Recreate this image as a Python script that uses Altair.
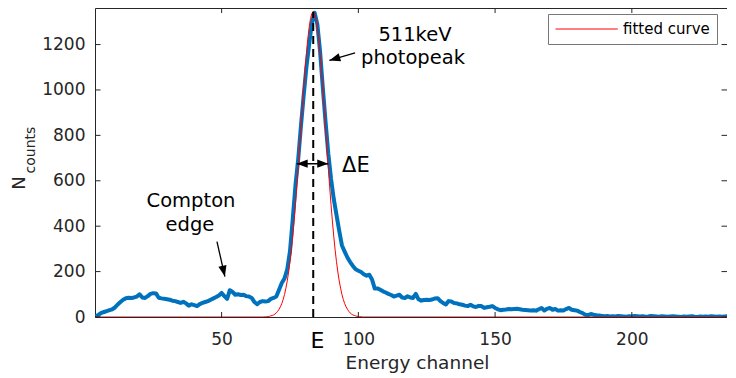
import altair as alt
import pandas as pd

# ---------------- data ----------------
channels = list(range(4, 236))
counts = [
    3, 10, 18, 22, 26, 30, 34, 42, 55, 66,            # 4-13
    76, 83, 85, 84, 86, 90, 100, 86, 84, 92,          # 14-23
    102, 105, 104, 85, 82, 80, 78, 76, 72, 70,        # 24-33
    66, 62, 67, 60, 50, 56, 52, 48, 57, 62,           # 34-43
    66, 70, 76, 82, 88, 95, 106, 92, 80, 118,         # 44-53
    110, 98, 100, 97, 98, 92, 90, 84, 66, 56,         # 54-63
    66, 70, 68, 70, 80, 84, 90, 120, 150, 170,        # 64-73
    210, 290, 430, 580, 695, 840, 975, 1100, 1200, 1295,  # 74-83
    1340, 1290, 1170, 1010, 860, 720, 610, 520, 450, 380,  # 84-93
    315, 288, 262, 242, 225, 210, 204, 198, 188, 182,  # 94-103
    186, 165, 125, 126, 120, 113, 108, 102, 97, 90,   # 104-113
    94, 98, 86, 84, 91, 86, 84, 102, 78, 72,          # 114-123
    75, 76, 75, 77, 82, 83, 70, 62, 55, 70,           # 124-133
    68, 62, 60, 56, 54, 50, 48, 54, 47, 44,           # 134-143
    49, 48, 40, 43, 45, 48, 40, 34, 30, 32,           # 144-153
    33, 35, 34, 35, 36, 34, 32, 31, 30, 29,           # 154-163
    30, 28, 34, 40, 29, 36, 40, 32, 35, 28,           # 164-173
    30, 29, 35, 40, 32, 30, 28, 22, 17, 10,           # 174-183
    8, 13, 10, 8, 7, 5, 3, 4, 2, 3,                   # 184-193
    2, 4, 3, 2, 1, 3, 2, 4, 3, 2,                     # 194-203
    3, 1, 2, 4, 3, 2, 1, 3, 2, 1,                     # 204-213
    2, 3, 2, 1, 0, 2, 1, 2, 3, 1,                     # 214-223
    0, 2, 1, 2, 1, 3, 2, 1, 2, 1,                     # 224-233
    2, 3,                                             # 234-235
]

# fitted curve, read at half-channel steps across the peak
fit_channels = [4] + [65 + 0.5 * i for i in range(75)] + [235]
fit_counts = [0,
    0, 0.5, 1, 1.5, 2, 3, 5, 7, 9, 13, 18, 25, 34, 45, 59, 77, 99, 127, 159,
    198, 244, 296, 356, 423, 496, 574, 658, 745, 834, 922, 1007, 1087, 1160,
    1224, 1275, 1314, 1337, 1345,
    1337, 1314, 1275, 1224, 1160, 1087, 1007, 922, 834, 745, 658, 574, 496,
    423, 356, 296, 244, 198, 159, 127, 99, 77, 59, 45, 34, 25, 18, 13, 9, 7,
    5, 3, 2, 1.5, 1, 0.5, 0,
    0]

x_ticks = [50, 100, 150, 200]
y_ticks = [0, 200, 400, 600, 800, 1000, 1200]
legend_label = "fitted curve"

peak_channel = 83.5
peak_height = 1345

# annotation anchors in data units
ann_texts = ["511keV", "photopeak", "Compton", "edge"]
ann_x = [120.7, 120.0, 38.8, 38.4]
ann_y = [1214, 1116, 485, 377]

de_text_x, de_text_y = 99.1, 639
de_left, de_right, de_y = 77.45, 89.0, 675

arrow_tail_x = [98.8, 48.3]
arrow_tail_y = [1163, 332]
arrow_tip_x = [89.4, 51.2]
arrow_tip_y = [1130, 178]
arrow_angle = [163, 77]

E_label_x = 85.05

# ---------------- chart ----------------
FONT = "DejaVu Sans"
W, H = 632, 309

xs = alt.Scale(domain=[3.7, 234.8], nice=False, zero=False)
ys = alt.Scale(domain=[0, 1361], nice=False)

x_axis = alt.Axis(values=x_ticks, grid=False, ticks=False, tickSize=0, domain=False,
                  labelFont=FONT, labelFontSize=17, labelColor="#262626", labelPadding=14,
                  title="Energy channel", titleFont=FONT, titleFontSize=18.5,
                  titleFontWeight="normal", titleColor="#262626",
                  titleBaseline="alphabetic", titleY=51, titleX=322)
y_axis = alt.Axis(values=y_ticks, grid=False, ticks=False, tickSize=0, domain=False,
                  format="d",
                  labelFont=FONT, labelFontSize=17, labelColor="#262626", labelPadding=10,
                  title=None)

X = alt.X("x:Q", scale=xs, axis=x_axis)
Y = alt.Y("y:Q", scale=ys, axis=y_axis)

df_counts = pd.DataFrame({"x": channels, "y": counts})
df_fit = pd.DataFrame({"x": fit_channels, "y": fit_counts, "s": legend_label})

blue = alt.Chart(df_counts).mark_line(color="#0072BD", strokeWidth=4, clip=True,
                                      strokeJoin="round").encode(x=X, y=Y)

red = alt.Chart(df_fit).mark_line(strokeWidth=1, clip=True).encode(
    x=X, y=Y,
    color=alt.Color("s:N", scale=alt.Scale(domain=[legend_label], range=["#FF0000"]),
                    legend=alt.Legend(title=None, orient="none", legendX=453, legendY=6,
                                      symbolType="M-1,0L7.3,0", symbolSize=225,
                                      symbolStrokeWidth=1, labelFont=FONT,
                                      labelFontSize=15, labelColor="black",
                                      labelOffset=52, padding=7, strokeColor="#777777",
                                      fillColor="white", cornerRadius=0)))

dash = alt.Chart(pd.DataFrame({"x": [peak_channel], "y": [0], "y2": [peak_height]})).mark_rule(
    color="black", strokeWidth=2, strokeDash=[8, 5]).encode(x=X, y=Y, y2="y2:Q")

# arrows
shafts = pd.DataFrame({"x": arrow_tail_x + [de_left], "y": arrow_tail_y + [de_y],
                       "x2": arrow_tip_x + [de_right], "y2": arrow_tip_y + [de_y]})
shaft = alt.Chart(shafts).mark_rule(color="black", strokeWidth=1.3).encode(
    x=X, y=Y, x2="x2:Q", y2="y2:Q")

heads = pd.DataFrame({"x": arrow_tip_x + [de_left, de_right],
                      "y": arrow_tip_y + [de_y, de_y],
                      "a": arrow_angle + [180, 0]})
head = alt.Chart(heads).mark_point(shape="M0,0L-2,-0.75L-2,0.75Z", filled=True,
                                   color="black", opacity=1, size=121, strokeWidth=0).encode(
    x=X, y=Y, angle=alt.Angle("a:Q", scale=None))

ann = alt.Chart(pd.DataFrame({"x": ann_x, "y": ann_y, "t": ann_texts})).mark_text(
    font=FONT, fontSize=19.5, color="black", align="center", baseline="alphabetic").encode(
    x=X, y=Y, text="t:N")

de_txt = alt.Chart(pd.DataFrame({"x": [de_text_x], "y": [de_text_y], "t": ["ΔE"]})).mark_text(
    font=FONT, fontSize=21, color="black", align="center", baseline="alphabetic").encode(
    x=X, y=Y, text="t:N")

e_txt = alt.Chart(pd.DataFrame({"x": [E_label_x], "t": ["E"]})).mark_text(
    font=FONT, fontSize=22, color="black", align="center", baseline="alphabetic").encode(
    x=X, y=alt.value(339.7), text="t:N")

# inward ticks (box style)
df_xt = pd.DataFrame({"x": x_ticks})
df_yt = pd.DataFrame({"y": y_ticks})
tick_style = dict(color="#262626", strokeWidth=1)
xt_b = alt.Chart(df_xt).mark_rule(**tick_style).encode(x=X, y=alt.value(H), y2=alt.value(H - 5))
xt_t = alt.Chart(df_xt).mark_rule(**tick_style).encode(x=X, y=alt.value(0), y2=alt.value(5))
yt_l = alt.Chart(df_yt).mark_rule(**tick_style).encode(y=Y, x=alt.value(0), x2=alt.value(5.5))
yt_r = alt.Chart(df_yt).mark_rule(**tick_style).encode(y=Y, x=alt.value(W), x2=alt.value(W - 5.5))

# y title  N_counts
n_txt = alt.Chart(pd.DataFrame({"t": ["N"]})).mark_text(
    font=FONT, fontSize=18, color="#262626", angle=270, align="center",
    baseline="alphabetic").encode(x=alt.value(-70.5), y=alt.value(175), text="t:N")
c_txt = alt.Chart(pd.DataFrame({"t": ["counts"]})).mark_text(
    font=FONT, fontSize=14, color="#262626", angle=270, align="center",
    baseline="alphabetic").encode(x=alt.value(-60), y=alt.value(142), text="t:N")

chart = alt.layer(blue, red, dash, shaft, head, ann, de_txt, e_txt,
                  xt_b, xt_t, yt_l, yt_r, n_txt, c_txt).properties(
    width=W, height=H,
    autosize=alt.AutoSizeParams(type="none"),
    padding={"left": 87, "top": 0, "right": 0, "bottom": 62},
).configure_view(stroke="#262626", strokeWidth=1)

chart.save("out.html", embed_options={"renderer": "svg", "actions": False})
